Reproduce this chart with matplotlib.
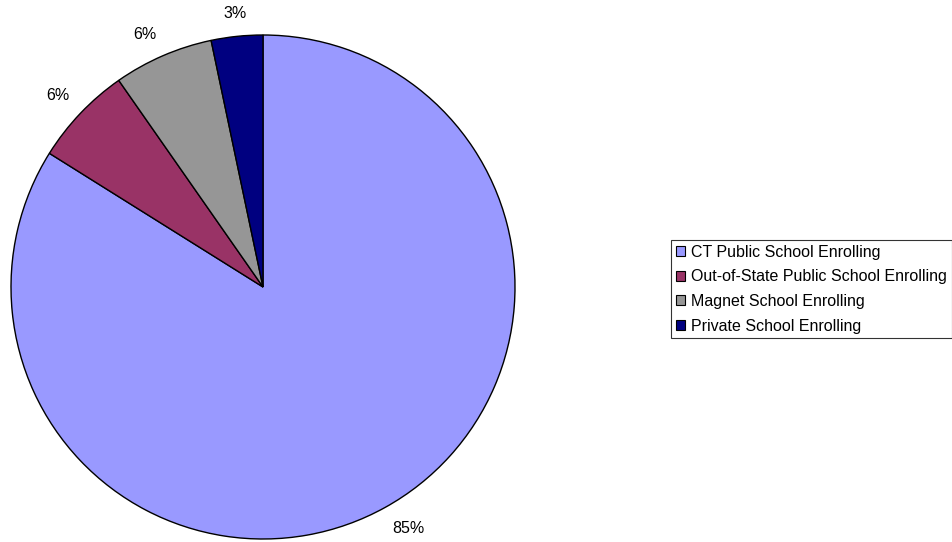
import numpy as np
import matplotlib
matplotlib.use("Agg")
import matplotlib.pyplot as plt
from matplotlib.patches import Patch

categories = ["CT Public School Enrolling", "Out-of-State Public School Enrolling",
              "Magnet School Enrolling", "Private School Enrolling"]
values = [83.9, 6.4, 6.4, 3.3]
pct_labels = ["85%", "6%", "6%", "3%"]
colors = ["#9999FF", "#993366", "#969696", "#000080"]

plt.rcParams['font.family'] = ['Liberation Sans', 'DejaVu Sans']

W, H = 952, 542
fig = plt.figure(figsize=(W / 100, H / 100), dpi=100)
cx, cy, r = 263, 287, 252
ax = fig.add_axes([(cx - r) / W, (H - cy - r) / H, 2 * r / W, 2 * r / H])
wedges, _ = ax.pie(values, colors=colors, startangle=90, counterclock=False,
                   wedgeprops=dict(edgecolor="black", linewidth=1.0))
ax.set_xlim(-1, 1)
ax.set_ylim(-1, 1)
ax.set_aspect("equal")
ax.axis("off")

for w, lab in zip(wedges, pct_labels):
    ang = np.deg2rad((w.theta1 + w.theta2) / 2)
    d = 1.06
    c, s = np.cos(ang), np.sin(ang)
    if abs(c) < 0.2:
        ha = "center"
    else:
        ha = "left" if c > 0 else "right"
    ax.text(d * c, d * s, lab, ha=ha,
            va="top" if s < 0 else "bottom",
            fontsize=11.5, color="black", clip_on=False)

handles = [Patch(facecolor=c, edgecolor="black", linewidth=0.8) for c in colors]
leg = fig.legend(handles, categories, loc="upper left",
                 bbox_to_anchor=(671 / W, 1 - 240 / H), fontsize=11.5,
                 frameon=True, fancybox=False, shadow=False,
                 handlelength=0.6, handleheight=0.6, handletextpad=0.35,
                 borderpad=0.3, labelspacing=0.6, borderaxespad=0)
leg.get_frame().set_edgecolor("black")
leg.get_frame().set_linewidth(0.8)

fig.savefig("out.png", dpi=100)
